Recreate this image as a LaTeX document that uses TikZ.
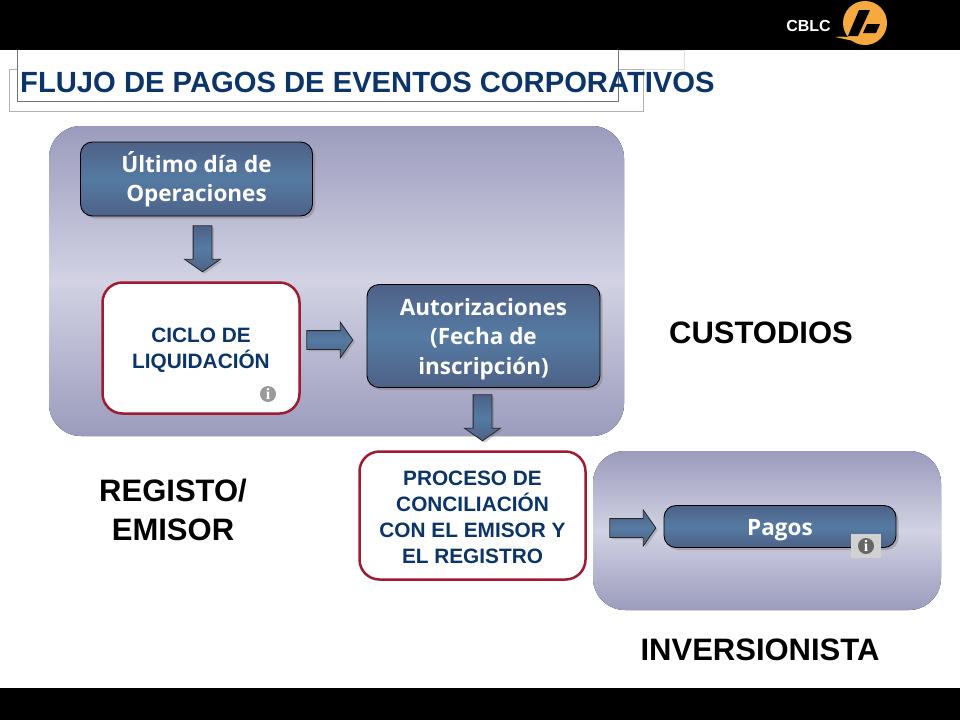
\documentclass[tikz,border=0pt]{standalone}
\usepackage{fontspec}
\setmainfont{Liberation Sans}
\newfontfamily\boxfont{Open Sans}
\newfontfamily\infofont{Liberation Serif}
\usetikzlibrary{shapes.arrows,shadows}
\definecolor{titleblue}{HTML}{0B3469}
\definecolor{panelblue}{HTML}{9B9BBD}
\definecolor{panellight}{HTML}{D2D2E4}
\definecolor{boxdark}{HTML}{4E6187}
\definecolor{boxmid}{HTML}{557BA3}
\definecolor{wine}{HTML}{9E1B32}
\definecolor{logoorange}{HTML}{F5A93F}
\definecolor{infogrey}{HTML}{9A9A9A}
\newcommand{\boxstrut}{\rule{0pt}{23pt}}
\newcommand{\redstrut}{\rule{0pt}{19pt}}
\tikzset{
  panel/.style={rounded corners=32pt,top color=panelblue,bottom color=panelblue,middle color=panellight,shading angle=0},
  bluebox/.style={draw=black,line width=0.9pt,rounded corners=12pt,minimum height=74pt,align=center,
    top color=boxdark,bottom color=boxdark,middle color=boxmid,text=white,
    font=\boxfont\bfseries\fontsize{22.5}{29.5}\selectfont,
    drop shadow={shadow xshift=2.5pt,shadow yshift=-2.5pt,fill=black!55,opacity=0.4}},
  redbox/.style={draw=wine,line width=2.5pt,fill=white,rounded corners=20pt,align=center,text=titleblue,
    font=\bfseries\fontsize{20.8}{26}\selectfont},
  blockarrow/.style={single arrow,draw=black!85,line width=0.8pt,inner xsep=0pt,inner ysep=9pt,outer sep=0pt,
    single arrow head extend=8.5pt,single arrow head indent=0pt,single arrow tip angle=110,
    minimum height=46pt,
    top color=boxdark,bottom color=boxdark,middle color=boxmid,
    drop shadow={shadow xshift=2pt,shadow yshift=-2pt,fill=black!55,opacity=0.35}},
  bigtext/.style={text=black,align=center,font=\bfseries\fontsize{31}{39}\selectfont},
  infomark/.style={circle,fill=#1,text=white,inner sep=0pt,minimum size=16pt,
    font=\infofont\bfseries\fontsize{16}{16}\selectfont},
}
\begin{document}
\begin{tikzpicture}[x=1pt,y=-1pt]
  \useasboundingbox (0,0) rectangle (960,720);
  \fill[white] (0,0) rectangle (960,720);
  % bars
  \fill[black] (0,0) rectangle (960,50);
  \fill[black] (0,688) rectangle (960,720);
  % logo
  \node[text=white,font=\bfseries\fontsize{16}{16}\selectfont] (cblc) at (808.5,26) {CBLC};
  \node[circle,fill=logoorange,minimum size=44pt,inner sep=0pt] (logo) at (865,23) {};
  \fill[black] (848,36) -- (859,10) -- (870,10) -- (858,36) -- cycle;
  \fill[black] (867,24) -- (880,24) -- (876,33) -- (863,33) -- cycle;
  \fill[logoorange] (835,37) .. controls (845,36) and (855,37) .. (866,43) .. controls (856,42) and (845,39) .. (835,37) -- cycle;
  % title frames
  \draw[black!12] (618,50) -- (684,50) -- (684,69) -- (643,69);
  \draw[black!30] (9,69) rectangle (643,111);
  \fill[white] (17,50) rectangle (618,101);
  \draw[black!55] (17,50) -- (17,101) -- (618,101) -- (618,50);
  \node[anchor=west,inner sep=0pt,text=titleblue,font=\bfseries\fontsize{29.2}{29.2}\selectfont] (title) at (20,82) {FLUJO DE PAGOS DE EVENTOS CORPORATIVOS};
  % panels
  \fill[panel] (49,126) rectangle (624,436);
  \fill[panel] (593,451) rectangle (941,610);
  % boxes
  \node[bluebox,minimum width=232pt] (ultimo) at (196.5,179) {Último día de\\Operaciones};
  \node[redbox,minimum width=197pt,minimum height=131pt] (ciclo) at (201,348) {\redstrut CICLO DE\\LIQUIDACIÓN};
  \node[bluebox,minimum width=233pt,minimum height=103pt] (autor) at (483.5,336) {\boxstrut Autorizaciones\\(Fecha de\\inscripción)};
  \node[redbox,minimum width=226pt,minimum height=128pt] (proceso) at (472.5,515.5) {\redstrut PROCESO DE\\CONCILIACIÓN\\CON EL EMISOR Y\\EL REGISTRO};
  \node[bluebox,minimum width=232pt,minimum height=42pt] (pagos) at (780,526.5) {\boxstrut Pagos};
  % arrows
  \node[blockarrow,rotate=-90] (arrowa) at (202.5,245.5) {};
  \node[blockarrow] (arrowb) at (326.5,340) {};
  \node[blockarrow,rotate=-90] (arrowc) at (482.5,414.5) {};
  \node[blockarrow] (arrowd) at (629.5,528) {};
  % info marks
  \node[infomark=infogrey] (infoa) at (268,394) {i};
  \node[fill=black!18,minimum width=30pt,minimum height=24pt,inner sep=0pt] (infoback) at (866,546) {};
  \node[infomark=black!60] (infob) at (866,546) {i};
  % labels
  \node[bigtext] (custodios) at (761,333) {CUSTODIOS};
  \node[bigtext] (registo) at (173,510) {REGISTO/\\EMISOR};
  \node[bigtext] (inversionista) at (760,650) {INVERSIONISTA};
\end{tikzpicture}
\end{document}
